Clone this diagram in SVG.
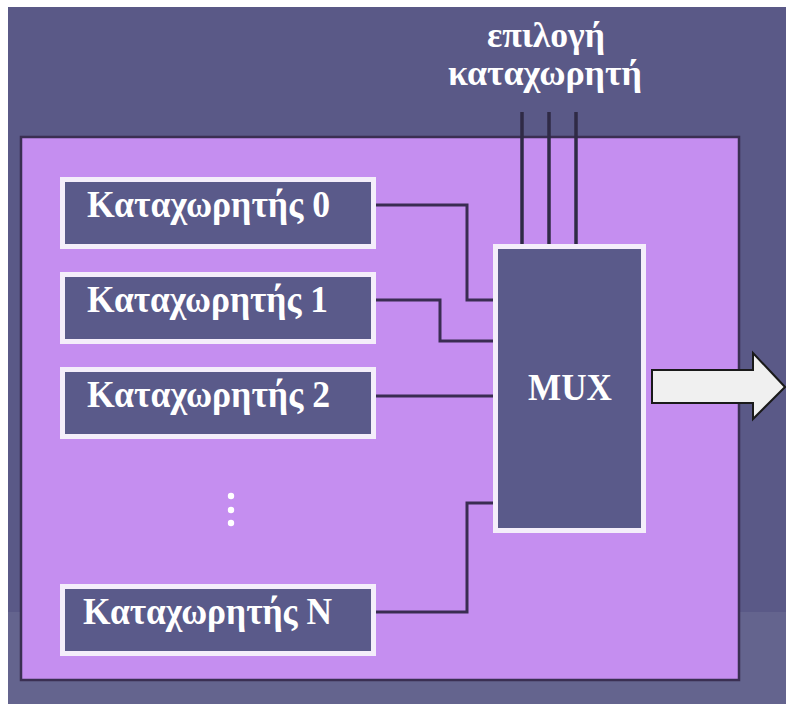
<svg xmlns="http://www.w3.org/2000/svg" width="786" height="704" viewBox="0 0 786 704">
  <style>
    .lbl { font-family: "Liberation Serif", "DejaVu Serif", serif; font-weight: bold; fill: #ffffff; }
    .reg-outer { fill: #f4eefa; }
    .reg-inner { fill: #5a5a8a; }
    .wire { fill: none; stroke: #3a2c52; stroke-width: 3; stroke-linejoin: miter; }
    .sel { fill: none; stroke: #2f2a45; stroke-width: 3.5; }
  </style>

  <!-- page background -->
  <rect x="0" y="0" width="786" height="704" fill="#ffffff"/>
  <rect x="8" y="7" width="778" height="697" fill="#5a5987"/>
  <rect x="8" y="612" width="778" height="92" fill="#64648e"/>

  <!-- register file enclosure -->
  <g id="enclosure">
    <rect x="21" y="137" width="718" height="543" fill="#c58ef0" stroke="#3a2f52" stroke-width="2.5"/>
  </g>

  <!-- select label -->
  <g id="select-label">
    <text class="lbl" x="546" y="47" font-size="36" text-anchor="middle" textLength="118" lengthAdjust="spacingAndGlyphs">επιλογή</text>
    <text class="lbl" x="545" y="85" font-size="36" text-anchor="middle" textLength="194" lengthAdjust="spacingAndGlyphs">καταχωρητή</text>
  </g>

  <!-- connectors -->
  <g id="connectors">
    <line class="sel" x1="522" y1="112" x2="522" y2="246"/>
    <line class="sel" x1="549" y1="112" x2="549" y2="246"/>
    <line class="sel" x1="576" y1="112" x2="576" y2="246"/>
    <polyline class="wire" points="376,205 467,205 467,300 493,300"/>
    <polyline class="wire" points="376,300 440,300 440,341 493,341"/>
    <polyline class="wire" points="376,396 493,396"/>
    <polyline class="wire" points="376,612 467,612 467,503 493,503"/>
    <!-- output bus arrow -->
    <polygon points="652,370 753,370 753,353 785,387 753,419 753,403 652,403" fill="#f0f0f0" stroke="#1a1a1a" stroke-width="2"/>
  </g>

  <!-- registers -->
  <g id="reg0">
    <rect class="reg-outer" x="60" y="177" width="316" height="72"/>
    <rect class="reg-inner" x="65" y="182" width="306" height="62"/>
    <text class="lbl" x="87" y="217" font-size="38" textLength="243" lengthAdjust="spacingAndGlyphs">Καταχωρητής 0</text>
  </g>
  <g id="reg1">
    <rect class="reg-outer" x="60" y="272" width="316" height="72"/>
    <rect class="reg-inner" x="65" y="277" width="306" height="62"/>
    <text class="lbl" x="87" y="312" font-size="38" textLength="241" lengthAdjust="spacingAndGlyphs">Καταχωρητής 1</text>
  </g>
  <g id="reg2">
    <rect class="reg-outer" x="60" y="367" width="316" height="72"/>
    <rect class="reg-inner" x="65" y="372" width="306" height="62"/>
    <text class="lbl" x="87" y="407" font-size="38" textLength="243" lengthAdjust="spacingAndGlyphs">Καταχωρητής 2</text>
  </g>
  <g id="ellipsis">
    <circle cx="231" cy="496" r="3.2" fill="#ffffff"/>
    <circle cx="231" cy="510" r="3.2" fill="#ffffff"/>
    <circle cx="231" cy="523" r="3.2" fill="#ffffff"/>
  </g>
  <g id="regN">
    <rect class="reg-outer" x="60" y="584" width="316" height="72"/>
    <rect class="reg-inner" x="65" y="589" width="306" height="62"/>
    <text class="lbl" x="83" y="624" font-size="38" textLength="249" lengthAdjust="spacingAndGlyphs">Καταχωρητής N</text>
  </g>

  <!-- multiplexer -->
  <g id="mux">
    <rect class="reg-outer" x="493" y="244" width="153" height="289"/>
    <rect class="reg-inner" x="498" y="249" width="143" height="279"/>
    <text class="lbl" x="570" y="400" font-size="37" text-anchor="middle" textLength="84" lengthAdjust="spacingAndGlyphs">MUX</text>
  </g>
</svg>
